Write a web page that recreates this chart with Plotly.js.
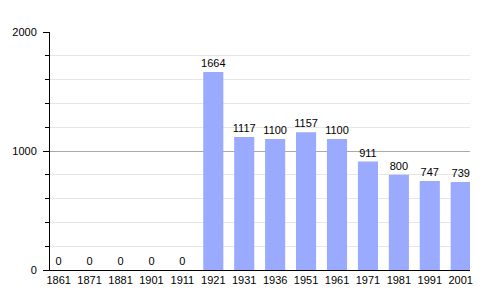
<!DOCTYPE html>
<html><head><meta charset="utf-8">
<script src="https://cdn.plot.ly/plotly-3.0.1.min.js"></script>
<style>html,body{margin:0;padding:0;background:#fff}</style>
</head><body>
<div id="chart" style="width:500px;height:300px"></div>
<script>
const years = ["1861","1871","1881","1901","1911","1921","1931","1936","1951","1961","1971","1981","1991","2001"];
const population = [0,0,0,0,0,1664,1117,1100,1157,1100,911,800,747,739];

const trace = {
  type: 'bar',
  x: years,
  y: population,
  text: population.map(String),
  textposition: 'outside',
  constraintext: 'none',
  cliponaxis: false,
  textfont: {family: 'Liberation Sans, Arial, sans-serif', size: 11, color: '#000'},
  outsidetextfont: {family: 'Liberation Sans, Arial, sans-serif', size: 11, color: '#000'},
  marker: {color: '#99AAFF'},
  hoverinfo: 'none'
};

const layout = {
  width: 500, height: 300,
  margin: {l: 50, r: 30, t: 32, b: 30},
  paper_bgcolor: '#fff', plot_bgcolor: '#fff',
  showlegend: false,
  bargap: 0.35,
  font: {family: 'Liberation Sans, Arial, sans-serif', size: 11, color: '#000'},
  xaxis: {
    type: 'category',
    range: [-0.28, 13.3],
    showline: true, linecolor: '#000', linewidth: 1,
    ticks: '', showgrid: false,
    tickfont: {size: 11}
  },
  yaxis: {
    range: [0, 2000],
    tickvals: [0, 1000, 2000],
    ticktext: ['0', '1000', '2000'],
    showline: true, linecolor: '#000', linewidth: 1,
    ticks: 'outside', ticklen: 6, tickcolor: '#000',
    ticklabelstandoff: 4,
    showgrid: true, gridcolor: '#aaaaaa', gridwidth: 1,
    zeroline: false,
    tickfont: {size: 11},
    minor: {dtick: 200, showgrid: true, gridcolor: '#e6e6e6', ticks: 'outside', ticklen: 4, tickcolor: '#000'}
  }
};

Plotly.newPlot('chart', [trace], layout, {staticPlot: true, displayModeBar: false});
</script>
</body></html>
